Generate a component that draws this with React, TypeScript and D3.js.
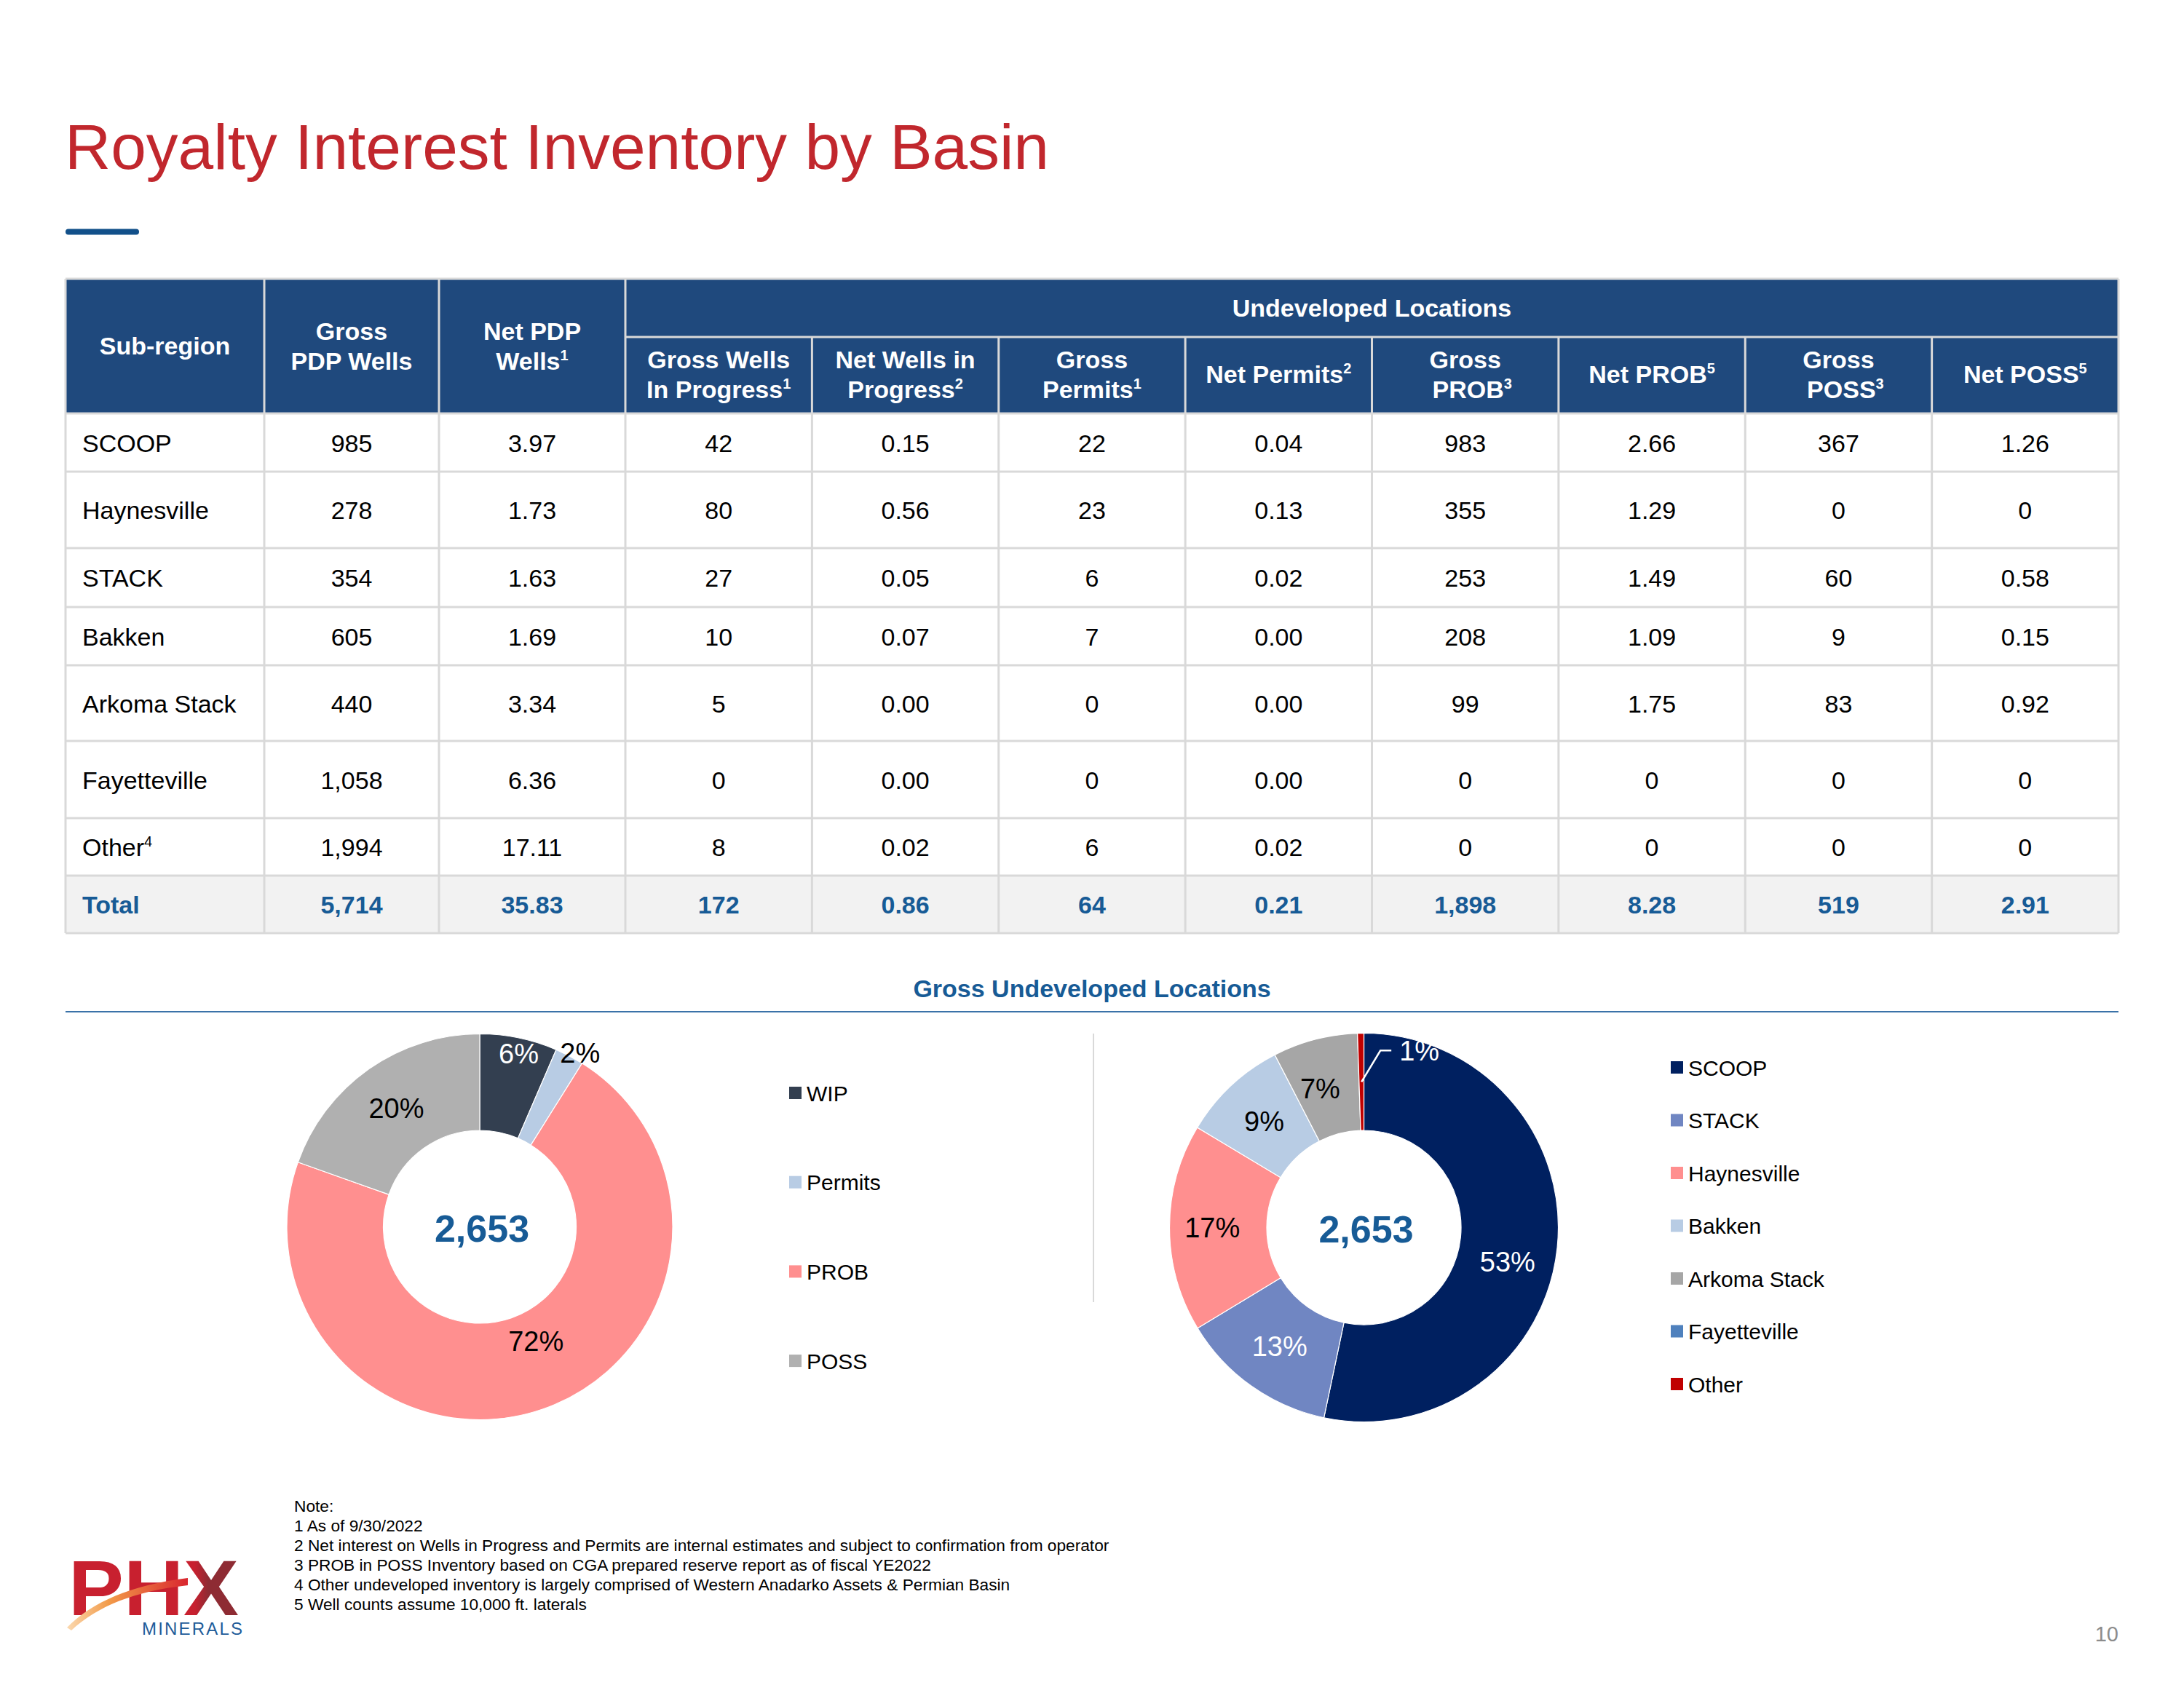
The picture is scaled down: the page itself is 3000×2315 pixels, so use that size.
import React from "react";
import * as d3 from "d3";

const FONT = "'Liberation Sans', Arial, Helvetica, sans-serif";

// ---------- Table data ----------
const subRegions = ["SCOOP", "Haynesville", "STACK", "Bakken", "Arkoma Stack", "Fayetteville", "Other"];
const subRegionNotes = ["", "", "", "", "", "", "4"];
const grossPdpWells = [985, 278, 354, 605, 440, 1058, 1994];
const netPdpWells = [3.97, 1.73, 1.63, 1.69, 3.34, 6.36, 17.11];
const grossWellsInProgress = [42, 80, 27, 10, 5, 0, 8];
const netWellsInProgress = [0.15, 0.56, 0.05, 0.07, 0.0, 0.0, 0.02];
const grossPermits = [22, 23, 6, 7, 0, 0, 6];
const netPermits = [0.04, 0.13, 0.02, 0.0, 0.0, 0.0, 0.02];
const grossProb = [983, 355, 253, 208, 99, 0, 0];
const netProb = [2.66, 1.29, 1.49, 1.09, 1.75, 0, 0];
const grossPoss = [367, 0, 60, 9, 83, 0, 0];
const netPoss = [1.26, 0, 0.58, 0.15, 0.92, 0, 0];
const totalLabel = "Total";
const totalValues = [5714, 35.83, 172, 0.86, 64, 0.21, 1898, 8.28, 519, 2.91];

const columnHeaders: [string, string][][] = [
  [["Sub-region", ""]],
  [["Gross", ""], ["PDP Wells", ""]],
  [["Net PDP", ""], ["Wells", "1"]],
  [["Gross Wells", ""], ["In Progress", "1"]],
  [["Net Wells in", ""], ["Progress", "2"]],
  [["Gross", ""], ["Permits", "1"]],
  [["Net Permits", "2"]],
  [["Gross", ""], ["\u00A0\u00A0PROB", "3"]],
  [["Net PROB", "5"]],
  [["Gross", ""], ["\u00A0\u00A0POSS", "3"]],
  [["Net POSS", "5"]],
];
const groupHeader = "Undeveloped Locations";

// ---------- Donut data ----------
const leftCategories = ["WIP", "Permits", "PROB", "POSS"];
const leftValues = [172, 64, 1898, 519];
const rightCategories = ["SCOOP", "STACK", "Haynesville", "Bakken", "Arkoma Stack", "Fayetteville", "Other"];
const rightValues = [1414, 346, 458, 234, 187, 0, 14];
const donutTitle = "Gross Undeveloped Locations";

const notes = [
  "Note:",
  "1 As of 9/30/2022",
  "2 Net interest on Wells in Progress and Permits are internal estimates and subject to confirmation from operator",
  "3 PROB in POSS Inventory based on CGA prepared reserve report as of fiscal YE2022",
  "4 Other undeveloped inventory is largely comprised of Western Anadarko Assets & Permian Basin",
  "5 Well counts assume 10,000 ft. laterals",
];

// ---------- Styles ----------
const leftColors: Record<string, string> = {
  WIP: "#333F50",
  Permits: "#B8CCE4",
  PROB: "#FF8F8F",
  POSS: "#B0B0B0",
};
const rightColors: Record<string, string> = {
  SCOOP: "#002060",
  STACK: "#7086C2",
  Haynesville: "#FF8F8F",
  Bakken: "#B8CCE4",
  "Arkoma Stack": "#A6A6A6",
  Fayetteville: "#4F81BD",
  Other: "#C00000",
};
const whiteLabels = new Set(["WIP", "SCOOP", "STACK", "Other"]);
// label placement tweaks (radius as fraction of outer radius, angle shift in degrees)
const leftLabelRadius: Record<string, number> = { WIP: 0.92, Permits: 1.04, PROB: 0.66 };
const leftLabelShift: Record<string, number> = { WIP: 1, Permits: 2.3, PROB: -7 };
const rightLabelRadius: Record<string, number> = { SCOOP: 0.76, Haynesville: 0.78 };
const rightLabelShift: Record<string, number> = { SCOOP: 7.5, "Arkoma Stack": -2.9 };

const HEADER_BLUE = "#1F497D";
const ACCENT_BLUE = "#175B96";
const GRID = "#D9D9D9";

const fmtInt = d3.format(",");
const fmtDec = d3.format(".2f");
const fmtDecZero = (v: number) => (v === 0 ? "0" : fmtDec(v));
const fmtPct = d3.format(".0%");

const columnData: { values: number[]; fmt: (v: number) => string }[] = [
  { values: grossPdpWells, fmt: fmtInt },
  { values: netPdpWells, fmt: fmtDec },
  { values: grossWellsInProgress, fmt: fmtInt },
  { values: netWellsInProgress, fmt: fmtDec },
  { values: grossPermits, fmt: fmtInt },
  { values: netPermits, fmt: fmtDec },
  { values: grossProb, fmt: fmtInt },
  { values: netProb, fmt: fmtDecZero },
  { values: grossPoss, fmt: fmtInt },
  { values: netPoss, fmt: fmtDecZero },
];

// ---------- Layout ----------
const TABLE_LEFT = 90;
const TABLE_RIGHT = 2910;
const colWidthsFixed = [273, 240, 256];
const undevCols = 8;
const undevWidth = (TABLE_RIGHT - TABLE_LEFT - d3.sum(colWidthsFixed)) / undevCols;
const colWidths = [...colWidthsFixed, ...d3.range(undevCols).map(() => undevWidth)];
const colEdges = [TABLE_LEFT, ...d3.cumsum(colWidths).map((w) => TABLE_LEFT + w)];
const HEADER_TOP = 383;
const HEADER_MID = 463;
const HEADER_BOTTOM = 568;
const rowHeights = [80, 105, 81, 80, 104, 106, 79, 79];
const rowEdges = [HEADER_BOTTOM, ...d3.cumsum(rowHeights).map((h) => HEADER_BOTTOM + h)];

const TABLE_FS = 34;
const SUP_FS = 20;

function Sup({ s }: { s: string }) {
  if (!s) return null;
  return (
    <tspan fontSize={SUP_FS} dy={-13}>
      {s}
    </tspan>
  );
}

function Table() {
  const els: React.ReactNode[] = [];
  els.push(
    <rect key="hbg" x={TABLE_LEFT} y={HEADER_TOP} width={TABLE_RIGHT - TABLE_LEFT} height={HEADER_BOTTOM - HEADER_TOP} fill={HEADER_BLUE} />
  );
  const nData = subRegions.length;
  els.push(
    <rect key="tbg" x={TABLE_LEFT} y={rowEdges[nData]} width={TABLE_RIGHT - TABLE_LEFT} height={rowEdges[nData + 1] - rowEdges[nData]} fill="#F2F2F2" />
  );
  els.push(
    <text key="grp" x={(colEdges[3] + TABLE_RIGHT) / 2} y={(HEADER_TOP + HEADER_MID) / 2} dy="0.35em" textAnchor="middle" fill="#fff" fontWeight="bold" fontSize={TABLE_FS}>
      {groupHeader}
    </text>
  );
  columnHeaders.forEach((lines, ci) => {
    const cx = (colEdges[ci] + colEdges[ci + 1]) / 2;
    const top = ci < 3 ? HEADER_TOP : HEADER_MID;
    const cy = (top + HEADER_BOTTOM) / 2 + (ci < 3 ? 0 : -1);
    const lh = 41;
    lines.forEach(([t, s], li) => {
      const y = cy + (li - (lines.length - 1) / 2) * lh;
      els.push(
        <text key={`h${ci}-${li}`} x={cx} y={y} dy="0.35em" textAnchor="middle" fill="#fff" fontWeight="bold" fontSize={TABLE_FS} style={{ whiteSpace: "pre" }}>
          {t}
          <Sup s={s} />
        </text>
      );
    });
  });
  subRegions.forEach((name, ri) => {
    const cy = (rowEdges[ri] + rowEdges[ri + 1]) / 2 + 1;
    els.push(
      <text key={`r${ri}-name`} x={colEdges[0] + 23} y={cy} dy="0.35em" fill="#000" fontSize={TABLE_FS}>
        {name}
        <Sup s={subRegionNotes[ri]} />
      </text>
    );
    columnData.forEach((col, ci) => {
      const cx = (colEdges[ci + 1] + colEdges[ci + 2]) / 2;
      els.push(
        <text key={`r${ri}-c${ci}`} x={cx} y={cy} dy="0.35em" textAnchor="middle" fill="#000" fontSize={TABLE_FS}>
          {col.fmt(col.values[ri])}
        </text>
      );
    });
  });
  {
    const cy = (rowEdges[nData] + rowEdges[nData + 1]) / 2 + 1;
    els.push(
      <text key="tot-name" x={colEdges[0] + 23} y={cy} dy="0.35em" fill={ACCENT_BLUE} fontWeight="bold" fontSize={TABLE_FS}>
        {totalLabel}
      </text>
    );
    totalValues.forEach((v, ci) => {
      const cx = (colEdges[ci + 1] + colEdges[ci + 2]) / 2;
      els.push(
        <text key={`tot-${ci}`} x={cx} y={cy} dy="0.35em" textAnchor="middle" fill={ACCENT_BLUE} fontWeight="bold" fontSize={TABLE_FS}>
          {columnData[ci].fmt(v)}
        </text>
      );
    });
  }
  const lines: React.ReactNode[] = [];
  lines.push(<line key="ht" x1={TABLE_LEFT} x2={TABLE_RIGHT} y1={HEADER_TOP} y2={HEADER_TOP} />);
  lines.push(<line key="hm" x1={colEdges[3]} x2={TABLE_RIGHT} y1={HEADER_MID} y2={HEADER_MID} />);
  rowEdges.forEach((y, i) => lines.push(<line key={`hr${i}`} x1={TABLE_LEFT} x2={TABLE_RIGHT} y1={y} y2={y} />));
  colEdges.forEach((x, i) => {
    const y1 = i > 3 && i < colEdges.length - 1 ? HEADER_MID : HEADER_TOP;
    lines.push(<line key={`v${i}`} x1={x} x2={x} y1={y1} y2={rowEdges[rowEdges.length - 1]} />);
  });
  els.push(
    <g key="grid" stroke={GRID} strokeWidth={3}>
      {lines}
    </g>
  );
  return <g fontFamily={FONT}>{els}</g>;
}

type Datum = { c: string; v: number };

type DonutProps = {
  cx: number;
  cy: number;
  R: number;
  categories: string[];
  values: number[];
  colors: Record<string, string>;
  labelRadius: Record<string, number>;
  labelShift: Record<string, number>;
  leaderFor?: string;
};

function Donut({ cx, cy, R, categories, values, colors, labelRadius, labelShift, leaderFor }: DonutProps) {
  const total = d3.sum(values);
  const data: Datum[] = categories.map((c, i) => ({ c, v: values[i] }));
  const pie = d3
    .pie<Datum>()
    .sort(null)
    .value((d) => d.v)
    .startAngle(0)
    .endAngle(2 * Math.PI);
  const arcs = pie(data);
  const arc = d3.arc<d3.PieArcDatum<Datum>>().innerRadius(R * 0.5).outerRadius(R);
  return (
    <g transform={`translate(${cx},${cy})`} fontFamily={FONT}>
      {arcs.map((a) =>
        a.data.v > 0 ? <path key={a.data.c} d={arc(a) || ""} fill={colors[a.data.c]} stroke="#fff" strokeWidth={1.2} /> : null
      )}
      {arcs.map((a) => {
        if (a.data.v <= 0) return null;
        const label = fmtPct(a.data.v / total);
        const fill = whiteLabels.has(a.data.c) ? "#fff" : "#000";
        const lr = (labelRadius[a.data.c] ?? 0.75) * R;
        const shift = ((labelShift[a.data.c] ?? 0) * Math.PI) / 180;
        const la = d3.arc<d3.PieArcDatum<Datum>>().innerRadius(lr).outerRadius(lr);
        const [lx, ly] = la.centroid({ ...a, startAngle: a.startAngle + shift, endAngle: a.endAngle + shift });
        if (a.data.c === leaderFor) {
          const ex = lx + 26;
          const ey = ly - 43;
          return (
            <g key={`l-${a.data.c}`}>
              <polyline points={`${lx},${ly} ${ex},${ey} ${ex + 15},${ey}`} fill="none" stroke="#fff" strokeWidth={2.5} />
              <text x={ex + 26} y={ey} dy="0.35em" fill={fill} fontSize={38}>
                {label}
              </text>
            </g>
          );
        }
        return (
          <text key={`l-${a.data.c}`} x={lx} y={ly} dy="0.35em" textAnchor="middle" fill={fill} fontSize={38}>
            {label}
          </text>
        );
      })}
      <text x={3} y={2} dy="0.35em" textAnchor="middle" fill={ACCENT_BLUE} fontWeight="bold" fontSize={52}>
        {fmtInt(total)}
      </text>
    </g>
  );
}

function Legend({ x, y, step, categories, colors }: { x: number; y: number; step: number; categories: string[]; colors: Record<string, string> }) {
  return (
    <g fontFamily={FONT}>
      {categories.map((c, i) => (
        <g key={c} transform={`translate(${x},${y + i * step})`}>
          <rect x={0} y={-9} width={17} height={17} fill={colors[c]} />
          <text x={24} y={0} dy="0.35em" fontSize={30} fill="#000">
            {c}
          </text>
        </g>
      ))}
    </g>
  );
}

function Logo() {
  return (
    <g fontFamily={FONT}>
      <defs>
        <linearGradient id="phxText" x1="0" x2="1" y1="0" y2="0">
          <stop offset="0" stopColor="#C8202F" />
          <stop offset="0.74" stopColor="#C8202F" />
          <stop offset="0.82" stopColor="#8E2B33" />
          <stop offset="1" stopColor="#8E2B33" />
        </linearGradient>
        <linearGradient id="swoosh" x1="0" x2="1" y1="0" y2="0">
          <stop offset="0" stopColor="#FBD9B0" />
          <stop offset="0.35" stopColor="#F29A48" />
          <stop offset="1" stopColor="#D9262F" />
        </linearGradient>
      </defs>
      <text x={94} y={2219} fontSize={108} fontWeight="bold" fill="url(#phxText)" textLength={234} lengthAdjust="spacingAndGlyphs">
        PHX
      </text>
      <path d="M 92 2236 C 128 2200, 180 2178, 258 2168 L 258 2178 C 185 2186, 135 2206, 98 2240 Z" fill="url(#swoosh)" />
      <text x={195} y={2246} fontSize={24} fill="#1F5C99" letterSpacing={2.2}>
        MINERALS
      </text>
    </g>
  );
}

export default function App() {
  return (
    <svg width={3000} height={2315} viewBox="0 0 3000 2315" style={{ position: "absolute", left: 0, top: 0, background: "#fff" }}>
      <rect x={0} y={0} width={3000} height={2315} fill="#fff" />
      <text x={89} y={232} fontFamily={FONT} fontSize={87.5} fill="#C1272D">
        Royalty Interest Inventory by Basin
      </text>
      <line x1={94} x2={187} y1={318.5} y2={318.5} stroke="#12508A" strokeWidth={8} strokeLinecap="round" />

      <Table />

      <text x={1500} y={1358} dy="0.35em" textAnchor="middle" fontFamily={FONT} fontWeight="bold" fontSize={34} fill={ACCENT_BLUE}>
        {donutTitle}
      </text>
      <line x1={90} x2={2910} y1={1390} y2={1390} stroke="#3A72A8" strokeWidth={2} />
      <line x1={1502} x2={1502} y1={1420} y2={1789} stroke={GRID} strokeWidth={2} />

      <Donut
        cx={659}
        cy={1685.5}
        R={265}
        categories={leftCategories}
        values={leftValues}
        colors={leftColors}
        labelRadius={leftLabelRadius}
        labelShift={leftLabelShift}
      />
      <Legend x={1084} y={1502} step={122.7} categories={leftCategories} colors={leftColors} />

      <Donut
        cx={1873.5}
        cy={1686.5}
        R={267}
        categories={rightCategories}
        values={rightValues}
        colors={rightColors}
        labelRadius={rightLabelRadius}
        labelShift={rightLabelShift}
        leaderFor="Other"
      />
      <Legend x={2295} y={1467} step={72.5} categories={rightCategories} colors={rightColors} />

      <g fontFamily={FONT} fontSize={22.7} fill="#000">
        {notes.map((n, i) => (
          <text key={i} x={404} y={2077 + i * 27}>
            {n}
          </text>
        ))}
      </g>

      <Logo />

      <text x={2910} y={2255} textAnchor="end" fontFamily={FONT} fontSize={29} fill="#8C8C8C">
        10
      </text>
    </svg>
  );
}
